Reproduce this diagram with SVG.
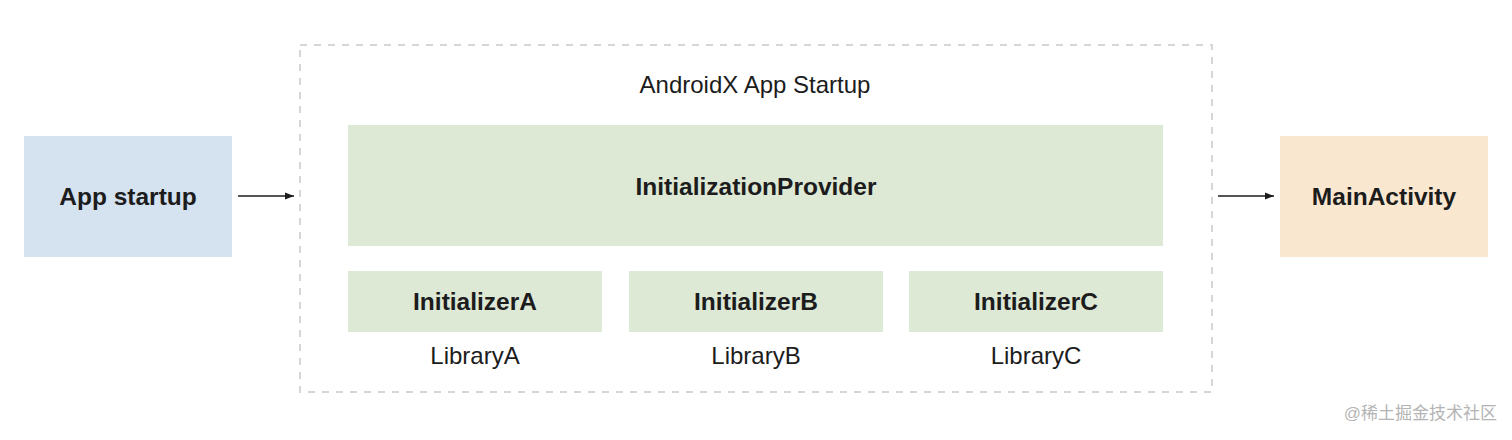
<svg xmlns="http://www.w3.org/2000/svg" width="1512" height="440" viewBox="0 0 1512 440">
<style>
.bold{font-family:"Liberation Sans",Arial,sans-serif;font-weight:bold;font-size:24.5px;fill:#1c1c1c;text-anchor:middle}
.reg{font-family:"Liberation Sans",Arial,sans-serif;font-size:24px;fill:#1c1c1c;text-anchor:middle}
.green{fill:#dde8d5}
.conn{stroke:#1c1c1c;stroke-width:1.5;fill:none;marker-end:url(#arr)}
</style>
<defs>
<marker id="arr" viewBox="0 0 10 10" refX="10" refY="5" markerWidth="9" markerHeight="9" markerUnits="userSpaceOnUse" orient="auto">
<path d="M0,1 L10,5 L0,9 Z" fill="#1c1c1c"/>
</marker>
</defs>
<rect width="1512" height="440" fill="#ffffff"/>
<g id="container">
<rect x="300" y="45" width="912" height="347" fill="none" stroke="#d6d6d6" stroke-width="2" stroke-dasharray="7,7"/>
<text class="reg" x="755" y="93">AndroidX App Startup</text>
</g>
<g id="app-startup">
<rect x="24" y="136" width="208" height="121" fill="#d5e2f0"/>
<text class="bold" x="128" y="205">App startup</text>
</g>
<g id="initialization-provider">
<rect class="green" x="348" y="125" width="815" height="121"/>
<text class="bold" x="756" y="195">InitializationProvider</text>
</g>
<g id="initializer-a">
<rect class="green" x="348" y="271" width="254" height="61"/>
<text class="bold" x="475" y="310">InitializerA</text>
<text class="reg" x="475" y="364">LibraryA</text>
</g>
<g id="initializer-b">
<rect class="green" x="629" y="271" width="254" height="61"/>
<text class="bold" x="756" y="310">InitializerB</text>
<text class="reg" x="756" y="364">LibraryB</text>
</g>
<g id="initializer-c">
<rect class="green" x="909" y="271" width="254" height="61"/>
<text class="bold" x="1036" y="310">InitializerC</text>
<text class="reg" x="1036" y="364">LibraryC</text>
</g>
<g id="main-activity">
<rect x="1280" y="136" width="208" height="121" fill="#f9e7d0"/>
<text class="bold" x="1384" y="205">MainActivity</text>
</g>
<g id="connectors">
<line class="conn" x1="238" y1="196" x2="294" y2="196"/>
<line class="conn" x1="1218" y1="196" x2="1274" y2="196"/>
</g>
<text x="1497" y="419" font-family="'Liberation Sans','Noto Sans CJK SC',sans-serif" font-size="17" fill="#b4b4b4" text-anchor="end">@稀土掘金技术社区</text>
</svg>
